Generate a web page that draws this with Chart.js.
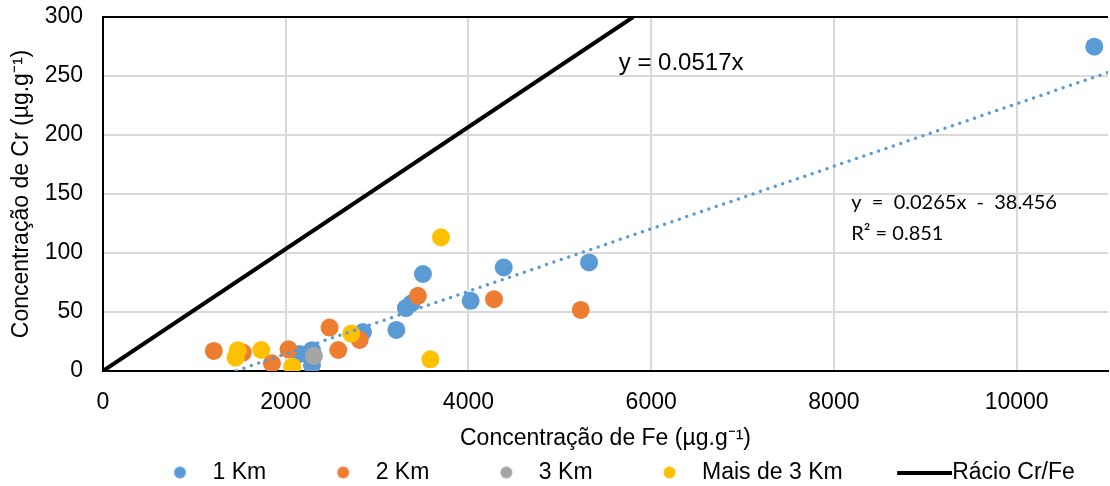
<!DOCTYPE html>
<html>
<head>
<meta charset="utf-8">
<script src="https://cdn.jsdelivr.net/npm/chart.js@4.4.1/dist/chart.umd.min.js"></script>
<style>
  html, body { margin: 0; padding: 0; background: #fff; }
</style>
</head>
<body>
<canvas id="chart" width="1110" height="486"></canvas>
<script>
// valores (Fe em x, Cr em y)
const km1Fe = [10850, 5320, 4386, 4024, 3502, 3375, 3315, 3211, 2845, 2287, 2287, 2153];
const km1Cr = [274.8, 92.0, 87.8, 59.5, 82.2, 57.2, 53.3, 34.8, 33.0, 17.6, 5.1, 14.4];
const km2Fe = [1213, 1531, 1849, 2031, 2480, 2575, 2809, 3447, 4280, 5229];
const km2Cr = [17.0, 15.6, 6.5, 18.4, 36.8, 17.8, 26.3, 63.7, 60.9, 51.8];
const km3Fe = [2309];
const km3Cr = [12.7];
const km3plusFe = [3699, 3583, 2718, 1732, 1476, 1451, 2072];
const km3plusCr = [113.3, 9.9, 31.7, 17.8, 17.6, 11.3, 3.7];

// recta Cr/Fe e linha de tendência (pontos extremos)
const ratioFe = [0, 5803];
const ratioCr = [0, 300];
const trendFe = [1300, 11000];
const trendCr = [-4.0, 253.0];

const seriesNames = ['1 Km', '2 Km', '3 Km', 'Mais de 3 Km', 'Rácio Cr/Fe'];
const xTicks = [0, 2000, 4000, 6000, 8000, 10000];
const yTicks = [0, 50, 100, 150, 200, 250, 300];
const ratioEq = 'y = 0.0517x';
const trendEq = 'y  =  0.0265x  -  38.456';
const trendR2 = 'R² = 0.851';

const FONT = "'Liberation Sans', Arial, sans-serif";
const COLORS = ['#5b9bd5', '#ed7d31', '#a5a5a5', '#ffc000'];

Chart.defaults.font.family = FONT;
Chart.defaults.color = '#000';

const pts = (xs, ys) => xs.map((v, i) => ({ x: v, y: ys[i] }));

// ícones da legenda (canvas) para controlar a posição do marcador
function dotIcon(color) {
  const c = document.createElement('canvas');
  c.width = 68; c.height = 14;
  const g = c.getContext('2d');
  g.fillStyle = color;
  g.beginPath();
  g.arc(60.5, 7, 6, 0, Math.PI * 2);
  g.fill();
  return c;
}
function lineIcon() {
  const c = document.createElement('canvas');
  c.width = 118; c.height = 4;
  const g = c.getContext('2d');
  g.fillStyle = '#000';
  g.fillRect(63, 0, 55, 4);
  return c;
}

const scatterDs = (i, xs, ys) => ({
  label: seriesNames[i],
  data: pts(xs, ys),
  backgroundColor: COLORS[i],
  borderColor: COLORS[i],
  borderWidth: 0,
  pointRadius: 9,
  pointHoverRadius: 9
});

// primeiro do array é desenhado por cima
const datasets = [
  {
    label: seriesNames[4],
    data: pts(ratioFe, ratioCr),
    showLine: true,
    borderColor: '#000',
    borderWidth: 4,
    pointRadius: 0,
    fill: false
  },
  {
    label: 'trend',
    data: pts(trendFe, trendCr),
    showLine: true,
    borderColor: COLORS[0],
    borderWidth: 3.5,
    borderDash: [0, 7.8],
    borderCapStyle: 'round',
    pointRadius: 0,
    fill: false
  },
  scatterDs(3, km3plusFe, km3plusCr),
  scatterDs(2, km3Fe, km3Cr),
  scatterDs(1, km2Fe, km2Cr),
  scatterDs(0, km1Fe, km1Cr)
];

const legendOrder = [5, 4, 3, 2, 0];
const legendIcons = { 5: dotIcon(COLORS[0]), 4: dotIcon(COLORS[1]), 3: dotIcon(COLORS[2]), 2: dotIcon(COLORS[3]), 0: lineIcon() };

const eqLabels = {
  id: 'eqLabels',
  afterDatasetsDraw(chart) {
    const { ctx, scales: { x, y } } = chart;
    ctx.save();
    ctx.fillStyle = '#000';
    ctx.textBaseline = 'middle';
    ctx.textAlign = 'left';
    ctx.font = '24px ' + FONT;
    ctx.fillText(ratioEq, x.getPixelForValue(5645), y.getPixelForValue(261));
    ctx.font = '20px Lato, "Open Sans", sans-serif';
    ctx.fillText(trendEq, x.getPixelForValue(8190), y.getPixelForValue(142.8));
    ctx.fillText(trendR2, x.getPixelForValue(8190), y.getPixelForValue(116.4));
    ctx.restore();
  }
};

new Chart(document.getElementById('chart'), {
  type: 'scatter',
  data: { datasets },
  plugins: [eqLabels],
  options: {
    responsive: false,
    animation: false,
    devicePixelRatio: 1,
    layout: { autoPadding: false, padding: { left: 0, right: 2, top: 0, bottom: -8 } },
    plugins: {
      tooltip: { enabled: false },
      legend: {
        position: 'bottom',
        align: 'start',
        fullSize: false,
        labels: {
          usePointStyle: true,
          pointStyleWidth: 95,
          padding: 3,
          font: { size: 23 },
          generateLabels(chart) {
            return legendOrder.map(i => ({
              text: chart.data.datasets[i].label,
              pointStyle: legendIcons[i],
              datasetIndex: i,
              hidden: !chart.isDatasetVisible(i),
              fillStyle: '#000',
              strokeStyle: '#000',
              lineWidth: 0,
              fontColor: '#000'
            }));
          }
        }
      }
    },
    scales: {
      x: {
        type: 'linear',
        min: 0,
        max: 11000,
        afterFit: s => { s.height = 87; s.paddingLeft = 0; s.paddingRight = 0; },
        afterBuildTicks: s => { s.ticks = xTicks.map(v => ({ value: v })); },
        ticks: {
          padding: 18,
          font: { size: 23 },
          callback: v => String(v)
        },
        grid: { color: '#d9d9d9', lineWidth: 2, drawTicks: false },
        border: { color: '#000', width: 2 },
        title: {
          display: true,
          text: 'Concentração de Fe (µg.g⁻¹)',
          font: { size: 23 },
          padding: { top: 0, bottom: 6 }
        }
      },
      y: {
        type: 'linear',
        min: 0,
        max: 300,
        afterFit: s => { s.width = 103; s.paddingTop = 17; s.paddingBottom = 14; },
        afterBuildTicks: s => { s.ticks = yTicks.map(v => ({ value: v })); },
        ticks: {
          padding: 20,
          font: { size: 23 }
        },
        grid: {
          color: c => c.tick && c.tick.value === 300 ? '#000' : '#d9d9d9',
          lineWidth: 2,
          drawTicks: false
        },
        border: { color: '#000', width: 2 },
        title: {
          display: true,
          text: 'Concentração de Cr (µg.g⁻¹)',
          font: { size: 23 },
          padding: { top: 8, bottom: 0 }
        }
      }
    }
  }
});
</script>
</body>
</html>
